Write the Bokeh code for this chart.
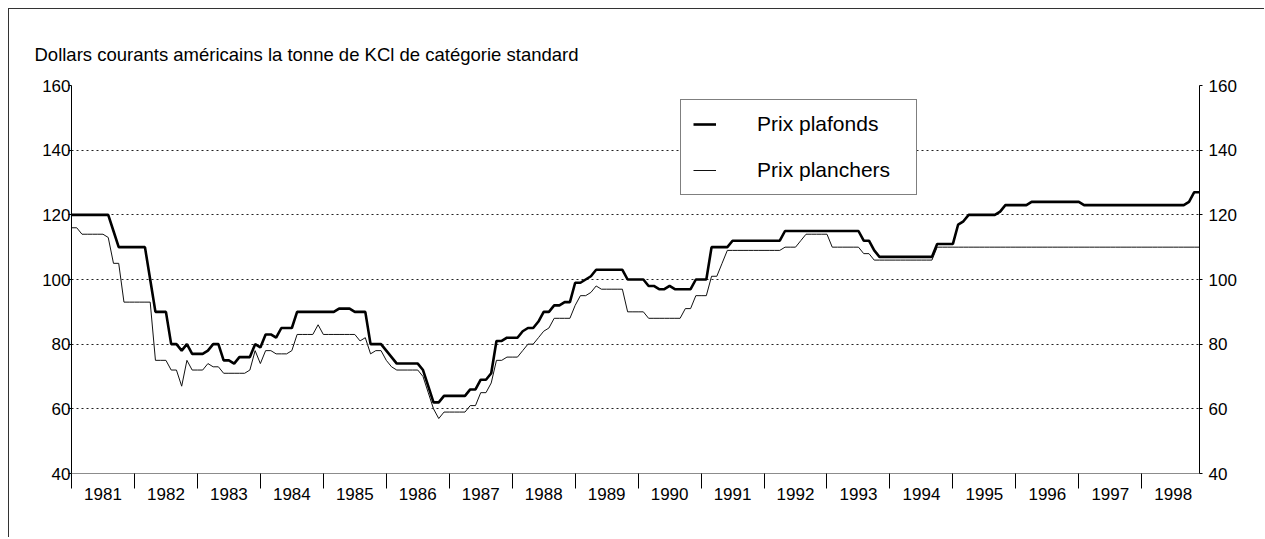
import numpy as np
from bokeh.plotting import figure
from bokeh.models import (Range1d, LinearAxis, FixedTicker, CustomJSTickFormatter,
                          Legend, LegendItem)
from bokeh.embed import file_html
from bokeh.resources import INLINE

# ---------------- data (monthly, Jan 1981 - Dec 1998) ----------------
years = list(range(1981, 1999))
y_ticks = [40, 60, 80, 100, 120, 140, 160]
title_text = "Dollars courants américains la tonne de KCl de catégorie standard"
label_plafonds = "Prix plafonds"
label_planchers = "Prix planchers"

plafonds = [
    120, 120, 120, 120, 120, 120, 120, 120, 115, 110, 110, 110,  # 1981
    110, 110, 110, 100, 90, 90, 90, 80, 80, 78, 80, 77,          # 1982
    77, 77, 78, 80, 80, 75, 75, 74, 76, 76, 76, 80,              # 1983
    79, 83, 83, 82, 85, 85, 85, 90, 90, 90, 90, 90,              # 1984
    90, 90, 90, 91, 91, 91, 90, 90, 90, 80, 80, 80,              # 1985
    78, 76, 74, 74, 74, 74, 74, 72, 67, 62, 62, 64,              # 1986
    64, 64, 64, 64, 66, 66, 69, 69, 71, 81, 81, 82,              # 1987
    82, 82, 84, 85, 85, 87, 90, 90, 92, 92, 93, 93,              # 1988
    99, 99, 100, 101, 103, 103, 103, 103, 103, 103, 100, 100,    # 1989
    100, 100, 98, 98, 97, 97, 98, 97, 97, 97, 97, 100,           # 1990
    100, 100, 110, 110, 110, 110, 112, 112, 112, 112, 112, 112,  # 1991
    112, 112, 112, 112, 115, 115, 115, 115, 115, 115, 115, 115,  # 1992
    115, 115, 115, 115, 115, 115, 115, 112, 112, 109, 107, 107,  # 1993
    107, 107, 107, 107, 107, 107, 107, 107, 107, 111, 111, 111,  # 1994
    111, 117, 118, 120, 120, 120, 120, 120, 120, 121, 123, 123,  # 1995
    123, 123, 123, 124, 124, 124, 124, 124, 124, 124, 124, 124,  # 1996
    124, 123, 123, 123, 123, 123, 123, 123, 123, 123, 123, 123,  # 1997
    123, 123, 123, 123, 123, 123, 123, 123, 123, 124, 127, 127,  # 1998
]

planchers = [
    116, 116, 114, 114, 114, 114, 114, 113, 105, 105, 93, 93,    # 1981
    93, 93, 93, 93, 75, 75, 75, 72, 72, 67, 75, 72,              # 1982
    72, 72, 74, 73, 73, 71, 71, 71, 71, 71, 72, 78,              # 1983
    74, 78, 78, 77, 77, 77, 78, 83, 83, 83, 83, 86,              # 1984
    83, 83, 83, 83, 83, 83, 83, 81, 82, 77, 78, 78,              # 1985
    75, 73, 72, 72, 72, 72, 72, 70, 65, 60, 57, 59,              # 1986
    59, 59, 59, 59, 61, 61, 65, 65, 68, 75, 75, 76,              # 1987
    76, 76, 78, 80, 80, 82, 84, 85, 88, 88, 88, 88,              # 1988
    92, 95, 95, 96, 98, 97, 97, 97, 97, 97, 90, 90,              # 1989
    90, 90, 88, 88, 88, 88, 88, 88, 88, 91, 91, 95,              # 1990
    95, 95, 101, 101, 105, 109, 109, 109, 109, 109, 109, 109,    # 1991
    109, 109, 109, 109, 110, 110, 110, 112, 114, 114, 114, 114,  # 1992
    114, 110, 110, 110, 110, 110, 110, 108, 108, 106, 106, 106,  # 1993
    106, 106, 106, 106, 106, 106, 106, 106, 106, 110, 110, 110,  # 1994
    110, 110, 110, 110, 110, 110, 110, 110, 110, 110, 110, 110,  # 1995
    110, 110, 110, 110, 110, 110, 110, 110, 110, 110, 110, 110,  # 1996
    110, 110, 110, 110, 110, 110, 110, 110, 110, 110, 110, 110,  # 1997
    110, 110, 110, 110, 110, 110, 110, 110, 110, 110, 110, 110,  # 1998
]

# time axis: one point per month
t = [years[0] + i / 12 for i in range(len(plafonds))]

FONT = "Liberation Sans"
W, H = 1255, 528
FL, FT, FW, FH = 62, 76, 1127, 387   # frame placement inside the canvas

p = figure(width=W, height=H, output_backend="svg", toolbar_location=None,
           x_range=Range1d(t[0], t[-1]), y_range=Range1d(y_ticks[0], y_ticks[-1]),
           min_border_left=FL, min_border_right=W - FL - FW, min_border_top=FT,
           min_border_bottom=H - FT - FH, title=title_text)
# outer frame of the figure (left and top edges visible)
p.styles = {"margin-left": "8px", "margin-top": "8px", "box-sizing": "content-box",
            "border-left": "1px solid #333333", "border-top": "1px solid #333333",
            "border-right": "none", "border-bottom": "none"}
p.outline_line_color = None
p.background_fill_color = "white"
p.border_fill_color = "white"

# title
p.title.text_font = FONT
p.title.text_font_size = "18.5px"
p.title.text_font_style = "normal"
p.title.text_color = "#000000"
p.title.align = "left"
p.title.offset = -37
p.title.standoff = 42

# x axis: minor ticks at year boundaries, labels mid-year
xa = p.xaxis[0]
xa.ticker = FixedTicker(ticks=[y + 0.5 for y in years], minor_ticks=[float(y) for y in years])
xa.formatter = CustomJSTickFormatter(code="return Math.floor(tick).toString()")
xa.major_tick_out = 0
xa.major_tick_in = 0
xa.minor_tick_out = 15
xa.minor_tick_in = 0
xa.minor_tick_line_color = "#000000"
xa.axis_line_color = "#000000"
xa.axis_line_alpha = 0.45
xa.major_label_text_font = FONT
xa.major_label_text_font_size = "17px"
xa.major_label_text_color = "#000000"
xa.major_label_standoff = -1

# left y axis
ya = p.yaxis[0]
ya.ticker = FixedTicker(ticks=y_ticks)
ya.major_tick_out = 3
ya.major_tick_in = 0
ya.minor_tick_out = 0
ya.minor_tick_in = 0
ya.axis_line_color = "#000000"
ya.major_label_text_font = FONT
ya.major_label_text_font_size = "17px"
ya.major_label_text_color = "#000000"
ya.major_label_standoff = -2

# right y axis
ra = LinearAxis(ticker=FixedTicker(ticks=y_ticks))
ra.major_tick_out = 3
ra.major_tick_in = 0
ra.minor_tick_out = 0
ra.minor_tick_in = 0
ra.axis_line_color = "#000000"
ra.major_label_text_font = FONT
ra.major_label_text_font_size = "17px"
ra.major_label_text_color = "#000000"
ra.major_label_standoff = 6
p.add_layout(ra, "right")

# grid
p.xgrid.grid_line_color = None
p.ygrid.ticker = FixedTicker(ticks=y_ticks)
p.ygrid.grid_line_color = "#222222"
p.ygrid.grid_line_dash = "2 3"
p.ygrid.grid_line_width = 1

# series
r_plancher = p.line(t, planchers, line_color="#111111", line_width=1)
r_plafond = p.line(t, plafonds, line_color="#000000", line_width=2.6)

legend = Legend(items=[LegendItem(label=label_plafonds, renderers=[r_plafond]),
                       LegendItem(label=label_planchers, renderers=[r_plancher])],
                location=(609, 278))
legend.border_line_color = "#000000"
legend.border_line_width = 1
legend.background_fill_color = "white"
legend.background_fill_alpha = 1
legend.padding = 12
legend.spacing = 22
legend.glyph_width = 23
legend.glyph_height = 22
legend.label_height = 22
legend.label_standoff = 41
legend.label_width = 147
legend.label_text_font = FONT
legend.label_text_font_size = "21px"
legend.label_text_color = "#000000"
legend.margin = 0
p.add_layout(legend, "center")

open("out.html", "w").write(file_html(p, INLINE))
